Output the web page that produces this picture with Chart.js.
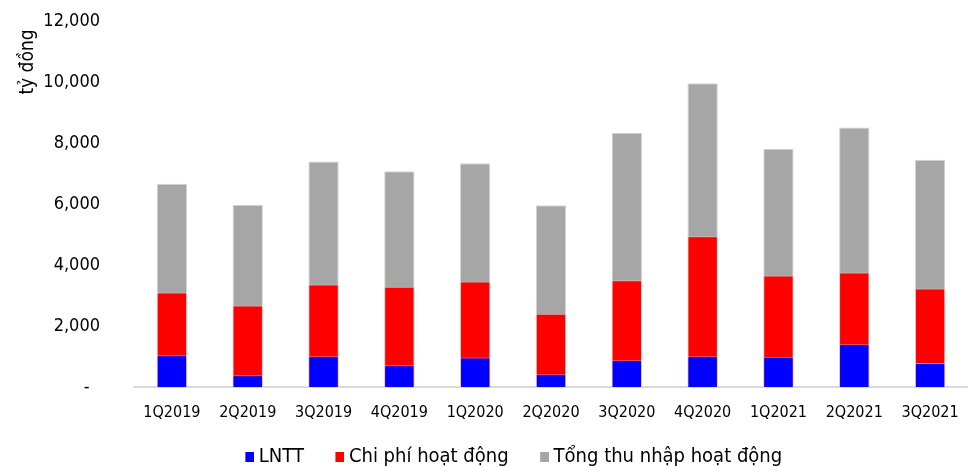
<!DOCTYPE html>
<html>
<head>
<meta charset="utf-8">
<script src="https://cdn.jsdelivr.net/npm/chart.js@4/dist/chart.umd.min.js"></script>
<style>
  html, body { margin: 0; padding: 0; background: #fff; }
  #wrap { width: 968px; height: 467px; }
</style>
</head>
<body>
<div id="wrap"><canvas id="c" width="968" height="467"></canvas></div>
<script>
// Quarterly figures, tỷ đồng
const quarters = ['1Q2019', '2Q2019', '3Q2019', '4Q2019', '1Q2020', '2Q2020',
                  '3Q2020', '4Q2020', '1Q2021', '2Q2021', '3Q2021'];
const lntt        = [1043, 387, 1010, 715, 967, 420, 879, 1010, 990, 1403, 787];
const chiPhi      = [3098, 2672, 3361, 3285, 3459, 2400, 3502, 4944, 3656, 3754, 3230];
const tongThuNhap = [6662, 5974, 7393, 7076, 7338, 5961, 8334, 9961, 7810, 8508, 7449];
const seriesNames = ['LNTT', 'Chi phí hoạt động', 'Tổng thu nhập hoạt động'];
const yMax = 12000;
const yStep = 2000;

const FONT = "'DejaVu Sans Condensed', 'DejaVu Sans', sans-serif";
Chart.defaults.font.family = FONT;
Chart.defaults.color = '#000';

const colors = ['#0000ff', '#ff0000', '#a6a6a6'];

// small square legend swatch, sitting close to its label
function swatch(color) {
  const c = document.createElement('canvas');
  c.width = 26; c.height = 10;
  const g = c.getContext('2d');
  g.fillStyle = color;
  g.fillRect(17, 0, 9, 10);
  return c;
}
const swatches = colors.map(swatch);

const extras = {
  id: 'extras',
  afterLayout(chart) {
    chart.legend.left += 48;
  },
  afterDraw(chart) {
    const { ctx } = chart;
    const y = chart.scales.y;
    ctx.save();
    ctx.translate(28, y.top + 41);
    ctx.rotate(-Math.PI / 2);
    ctx.font = '19px ' + FONT;
    ctx.fillStyle = '#000';
    ctx.textAlign = 'center';
    ctx.textBaseline = 'middle';
    ctx.fillText('tỷ đồng', 0, 0);
    ctx.restore();
  }
};

const barCommon = {
  grouped: false,
  barPercentage: 0.4,
  categoryPercentage: 1,
  borderWidth: 1
};

new Chart(document.getElementById('c'), {
  type: 'bar',
  data: {
    labels: quarters,
    datasets: [
      { ...barCommon, label: seriesNames[0], data: lntt, backgroundColor: colors[0], borderColor: 'rgba(200,200,255,0.6)' },
      { ...barCommon, label: seriesNames[1], data: chiPhi, backgroundColor: colors[1], borderColor: 'rgba(255,190,190,0.6)' },
      { ...barCommon, label: seriesNames[2], data: tongThuNhap, backgroundColor: colors[2], borderColor: '#d4d4d4' }
    ]
  },
  options: {
    responsive: false,
    animation: false,
    layout: { padding: { top: 21, bottom: -10, left: 0, right: 0 } },
    plugins: {
      tooltip: { enabled: false },
      legend: {
        position: 'bottom',
        labels: {
          usePointStyle: true,
          pointStyleWidth: 15,
          padding: 20,
          color: '#000',
          font: { size: 20 },
          generateLabels(chart) {
            const items = Chart.defaults.plugins.legend.labels.generateLabels(chart);
            items.forEach((it, i) => { it.pointStyle = swatches[i]; });
            return items;
          }
        }
      }
    },
    scales: {
      x: {
        grid: { display: false },
        border: { display: true, color: '#d9d9d9', width: 2 },
        ticks: { font: { size: 16 }, color: '#000', padding: 8, maxRotation: 0, autoSkip: false },
        afterFit(s) { s.height = 40; }
      },
      y: {
        min: 0,
        max: yMax,
        grid: { display: false },
        border: { display: false },
        ticks: {
          stepSize: yStep,
          padding: 26,
          font: { size: 18 },
          color: '#000',
          callback: v => v === 0 ? '-  ' : v.toLocaleString('en-US')
        },
        afterFit(s) {
          s.width = 134;
          s.paddingTop = 0;
          s.paddingBottom = 0;
        }
      }
    }
  },
  plugins: [extras]
});
</script>
</body>
</html>
